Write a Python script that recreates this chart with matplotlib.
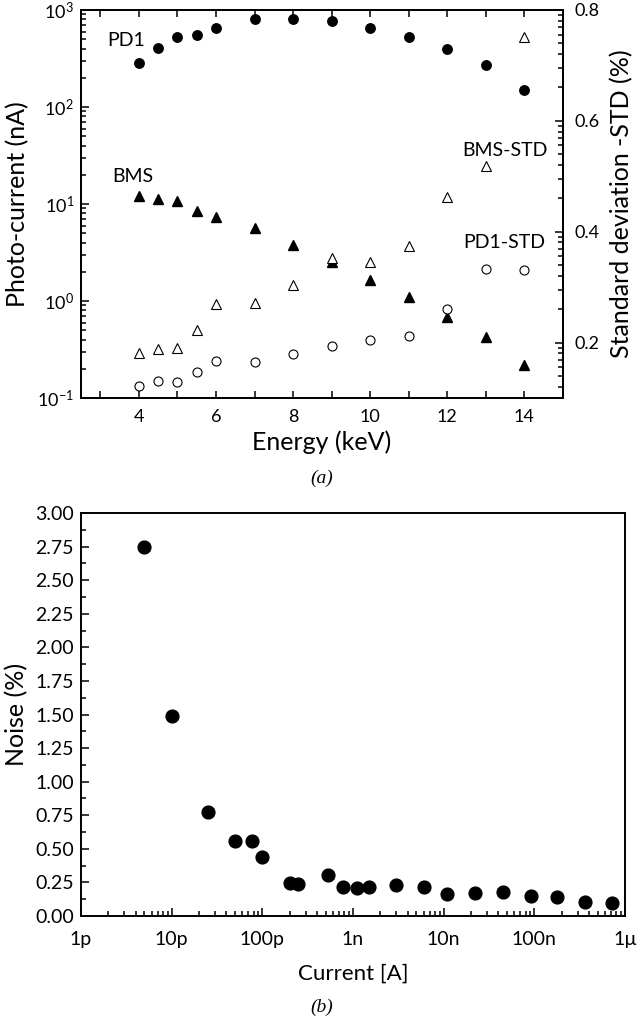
import numpy as np
import matplotlib
matplotlib.use("Agg")
import matplotlib.pyplot as plt
from matplotlib.ticker import FixedLocator, LogLocator, NullFormatter, FixedFormatter

plt.rcParams['font.family'] = ['Lato', 'DejaVu Sans']
plt.rcParams['mathtext.fontset'] = 'custom'
plt.rcParams['mathtext.rm'] = 'Lato'
plt.rcParams['mathtext.it'] = 'Lato:italic'
plt.rcParams['mathtext.bf'] = 'Lato:bold'

# ---------------- data (a) ----------------
energy = [4, 4.5, 5, 5.5, 6, 7, 8, 9, 10, 11, 12, 13, 14]
pd1_current = [287, 402, 523, 550, 649, 806, 806, 768, 649, 523, 393, 274, 150]
bms_current = [12.1, 11.3, 10.7, 8.45, 7.3, 5.6, 3.74, 2.55, 1.65, 1.10, 0.68, 0.43, 0.22]
bms_std = [0.181, 0.188, 0.190, 0.223, 0.270, 0.271, 0.304, 0.353, 0.345, 0.374, 0.463, 0.519, 0.751]
pd1_std = [0.122, 0.131, 0.129, 0.147, 0.167, 0.165, 0.179, 0.194, 0.205, 0.212, 0.261, 0.333, 0.331]

# ---------------- data (b) ----------------
current_A = [5e-12, 1e-11, 2.5e-11, 5e-11, 7.6e-11, 1e-10, 2.0e-10, 2.5e-10, 5.3e-10,
             7.7e-10, 1.1e-9, 1.5e-9, 3.0e-9, 6.1e-9, 1.1e-8, 2.2e-8, 4.5e-8,
             9.1e-8, 1.8e-7, 3.6e-7, 7.2e-7]
noise_pct = [2.75, 1.49, 0.775, 0.558, 0.558, 0.441, 0.243, 0.235, 0.303,
             0.213, 0.21, 0.213, 0.23, 0.216, 0.164, 0.171, 0.176,
             0.149, 0.141, 0.104, 0.097]
current_ticks = [1e-12, 1e-11, 1e-10, 1e-9, 1e-8, 1e-7, 1e-6]
current_ticklabels = ['1p', '10p', '100p', '1n', '10n', '100n', '1\u00b5']

W, H = 640, 1025
fig = plt.figure(figsize=(W / 100, H / 100), dpi=100)

LW = 1.4
TICKFS = 13

# ---------------- panel (a) ----------------
ax = fig.add_axes([81 / W, 1 - 398 / H, (563 - 81) / W, (398 - 10) / H])
ax.set_yscale('log')
ax.set_xlim(2.5, 15)
ax.set_ylim(0.1, 1000)
ax.plot(energy, pd1_current, 'o', color='black', ms=6.8, ls='none', zorder=3)
ax.plot(energy, bms_current, '^', color='black', ms=7.2, ls='none', zorder=3)

ax.xaxis.set_major_locator(FixedLocator([4, 6, 8, 10, 12, 14]))
ax.xaxis.set_minor_locator(FixedLocator([3, 5, 7, 9, 11, 13]))
ax.yaxis.set_minor_locator(LogLocator(base=10, subs=np.arange(2, 10), numticks=20))
ax.yaxis.set_minor_formatter(NullFormatter())
ax.set_yticks([0.1, 1, 10, 100, 1000])
ax.set_yticklabels([r'$\mathregular{10^{-1}}$', r'$\mathregular{10^{0}}$', r'$\mathregular{10^{1}}$',
                    r'$\mathregular{10^{2}}$', r'$\mathregular{10^{3}}$'])
ax.tick_params(axis='both', which='both', direction='in', width=1.1, labelsize=TICKFS)
ax.tick_params(axis='x', which='both', top=True)
ax.tick_params(axis='y', which='major', length=6, pad=5)
ax.tick_params(axis='y', which='minor', length=3.5)
ax.tick_params(axis='x', which='major', length=5, pad=8)
ax.tick_params(axis='x', which='minor', length=5)
for s in ax.spines.values():
    s.set_linewidth(LW)

ax.set_xlabel('Energy (keV)', fontsize=18, labelpad=4)
ax.set_ylabel('Photo-current (nA)', fontsize=18, labelpad=6)

ax.text(3.66, 480, 'PD1', fontsize=14, ha='center', va='center')
ax.text(3.84, 19.0, 'BMS', fontsize=14, ha='center', va='center')
ax.text(13.5, 36.0, 'BMS-STD', fontsize=14, ha='center', va='center')
ax.text(13.48, 4.0, 'PD1-STD', fontsize=14, ha='center', va='center')

ax2 = ax.twinx()
ax2.set_ylim(0.1, 0.8)
ax2.plot(energy, bms_std, '^', mfc='white', mec='black', mew=0.8, ms=6.8, ls='none', zorder=4)
ax2.plot(energy, pd1_std, 'o', mfc='white', mec='black', mew=0.8, ms=6.5, ls='none', zorder=4)
ax2.yaxis.set_major_locator(FixedLocator([0.2, 0.4, 0.6, 0.8]))
ax2.set_yticklabels(['0.2', '0.4', '0.6', '0.8'])
minors = []
for M in [0.8, 0.6, 0.4, 0.2]:
    for k in range(2, 10):
        v = M - 0.2 * (1 - np.log10(k))
        if v > 0.1:
            minors.append(v)
ax2.yaxis.set_minor_locator(FixedLocator(minors))
ax2.tick_params(axis='y', which='both', direction='in', width=1.1, labelsize=TICKFS)
ax2.tick_params(axis='y', which='major', length=6, pad=8)
ax2.tick_params(axis='y', which='minor', length=3.5)
ax2.set_ylabel('Standard deviation -STD (%)', fontsize=18, labelpad=8)
for s in ax2.spines.values():
    s.set_linewidth(LW)

fig.text(322 / W, 1 - 478 / H, '(a)', fontsize=14, family='Liberation Serif',
         style='italic', ha='center', va='center')

# ---------------- panel (b) ----------------
bx = fig.add_axes([81 / W, 1 - 916 / H, (625 - 81) / W, (916 - 513) / H])
bx.set_xscale('log')
bx.set_xlim(1e-12, 1e-6)
bx.set_ylim(0, 3.0)
bx.plot(current_A, noise_pct, 'o', color='black', ms=9.2, ls='none', zorder=3)
bx.xaxis.set_major_locator(FixedLocator(current_ticks))
bx.xaxis.set_major_formatter(FixedFormatter(current_ticklabels))
bx.xaxis.set_minor_locator(LogLocator(base=10, subs=np.arange(2, 10), numticks=20))
bx.xaxis.set_minor_formatter(NullFormatter())
yt = np.arange(0, 3.01, 0.25)
bx.yaxis.set_major_locator(FixedLocator(yt))
bx.yaxis.set_major_formatter(FixedFormatter(['%.2f' % v for v in yt]))
bx.yaxis.set_minor_locator(FixedLocator(np.arange(0.125, 3.0, 0.25)))
bx.tick_params(axis='both', which='both', direction='in', width=1.1, labelsize=14)
bx.tick_params(axis='x', which='major', length=6, pad=11)
bx.tick_params(axis='x', which='minor', length=3.5)
bx.tick_params(axis='y', which='major', length=6, pad=5)
bx.tick_params(axis='y', which='minor', length=3.5)
for s in bx.spines.values():
    s.set_linewidth(LW)
bx.set_xlabel('Current [A]', fontsize=16, labelpad=11)
bx.set_ylabel('Noise (%)', fontsize=18, labelpad=5)

fig.text(322 / W, 1 - 1007 / H, '(b)', fontsize=14, family='Liberation Serif',
         style='italic', ha='center', va='center')

fig.savefig('out.png', dpi=100)
